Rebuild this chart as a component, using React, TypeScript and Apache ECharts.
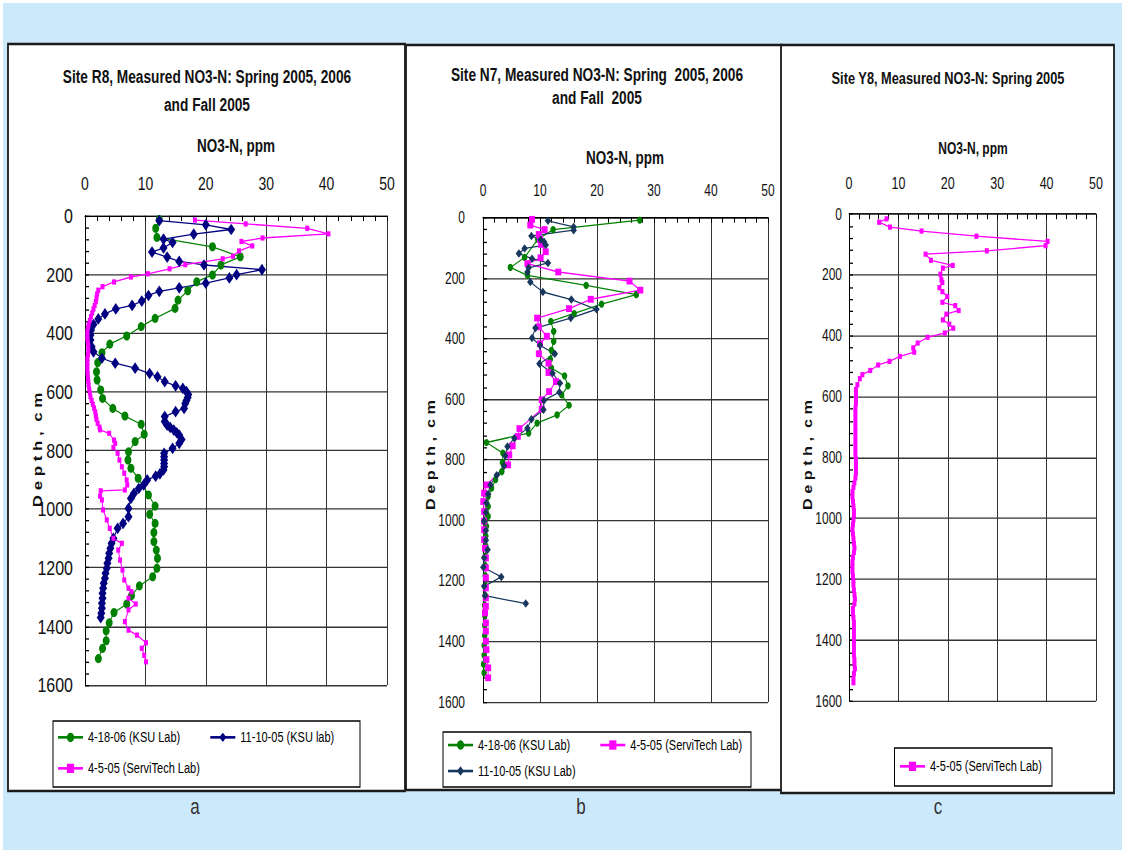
import React, { useEffect, useRef } from "react";
import * as echarts from "echarts";

// ---------------- data: [NO3-N ppm, depth cm] ----------------
const r8Ksu0418: number[][] = [
  [12.3, 13], [11.7, 43], [11.9, 74], [21.1, 106], [25.7, 140], [22.5, 168], [21.1, 202], [18.5, 225],
  [17.0, 256], [15.4, 288], [14.9, 316], [11.6, 350], [9.3, 378], [6.9, 410], [4.1, 438], [2.8, 467],
  [2.1, 501], [1.9, 532], [2.0, 560], [2.6, 594], [2.9, 623], [4.6, 657], [6.6, 683], [9.3, 711],
  [9.8, 745], [8.3, 770], [7.2, 805], [7.1, 833], [7.6, 861], [8.8, 895], [10.5, 952], [11.6, 990],
  [10.7, 1018], [11.6, 1049], [11.4, 1080], [11.4, 1111], [11.8, 1140], [12.0, 1168], [11.9, 1202],
  [11.2, 1231], [9.0, 1262], [7.7, 1295], [6.9, 1324], [4.8, 1353], [4.0, 1388], [3.5, 1415],
  [3.5, 1449], [2.9, 1475], [2.2, 1510],
];
const r8Ksu1110: number[][] = [
  [12.3, 17], [20.0, 31], [24.2, 47], [18.0, 63], [13.0, 80], [14.5, 91], [13.0, 110], [11.1, 124],
  [13.6, 141], [15.6, 156], [19.7, 168], [29.3, 184], [25.1, 201], [23.9, 212], [20.0, 230], [15.6, 246],
  [12.3, 258], [10.5, 272], [9.4, 291], [7.8, 306], [5.1, 318], [3.3, 335], [2.2, 352], [1.4, 371],
  [1.0, 390], [0.9, 407], [0.9, 424], [1.1, 447], [1.4, 464], [2.8, 486], [5.0, 503], [8.3, 520],
  [10.7, 538], [12.0, 549], [13.2, 566], [15.0, 580], [16.2, 589], [16.8, 600], [17.1, 610], [17.0, 620],
  [16.8, 630], [16.6, 640], [16.4, 657], [15.0, 668], [13.2, 685], [13.2, 702], [13.6, 714], [14.1, 722],
  [14.7, 731], [15.2, 740], [15.6, 748], [16.0, 763], [15.6, 776], [14.5, 793], [13.1, 810], [13.1, 822],
  [13.1, 833], [13.1, 845], [13.1, 856], [13.0, 867], [12.4, 880], [11.7, 888], [10.3, 901], [9.7, 918],
  [8.9, 930], [8.1, 947], [7.6, 964], [7.2, 998], [7.2, 1026], [6.3, 1049], [5.4, 1066], [4.7, 1100],
  [4.4, 1117], [4.2, 1134], [4.0, 1151], [3.9, 1168], [3.7, 1185], [3.6, 1202], [3.4, 1219], [3.3, 1236],
  [3.1, 1253], [3.0, 1270], [2.9, 1287], [2.9, 1304], [2.8, 1321], [2.8, 1338], [2.7, 1355], [2.6, 1370],
];
const r8Servi: number[][] = [
  [18.2, 15], [26.6, 28], [36.8, 43], [40.3, 62], [29.4, 76], [25.9, 88], [27.7, 103], [25.5, 120],
  [24.5, 138], [22.8, 147], [16.6, 167], [14.0, 181], [10.4, 198], [7.6, 209], [4.8, 226], [2.9, 242],
  [2.2, 254], [2.0, 267], [1.9, 280], [1.8, 293], [1.6, 306], [1.4, 318], [1.2, 331], [1.0, 344],
  [0.8, 357], [0.6, 370], [0.5, 383], [0.4, 396], [0.4, 409], [0.4, 422], [0.5, 435], [0.55, 448],
  [0.55, 461], [0.5, 474], [0.4, 487], [0.4, 500], [0.4, 513], [0.4, 526], [0.45, 539], [0.5, 552],
  [0.55, 565], [0.6, 578], [0.7, 591], [0.8, 604], [0.9, 617], [1.1, 630], [1.3, 643], [1.5, 656],
  [1.7, 669], [1.8, 682], [1.9, 695], [2.1, 708], [2.4, 721], [2.5, 730], [4.0, 742], [4.8, 765],
  [5.0, 776], [4.7, 790], [5.4, 810], [5.7, 833], [6.1, 856], [6.5, 878], [6.9, 901], [7.0, 918],
  [6.6, 935], [2.6, 938], [2.5, 956], [2.8, 969], [3.0, 1003], [3.6, 1037], [4.1, 1066], [4.7, 1100],
  [6.1, 1117], [5.5, 1140], [5.8, 1174], [6.2, 1208], [6.5, 1242], [7.2, 1270], [7.7, 1282], [7.2, 1304],
  [8.4, 1324], [7.2, 1344], [6.6, 1384], [7.2, 1413], [8.6, 1430], [10.1, 1456], [9.4, 1475], [9.8, 1499],
  [10.1, 1521],
];

const n7Ksu0418: number[][] = [
  [27.5, 9], [12.3, 40], [9.6, 72], [7.3, 132], [4.8, 165], [7.8, 191], [18.1, 224], [26.9, 255],
  [20.8, 286], [16.0, 317], [11.9, 343], [12.4, 376], [12.4, 409], [12.0, 439], [11.8, 468], [12.0, 497],
  [14.3, 523], [14.9, 556], [13.8, 586], [15.1, 620], [13.0, 652], [9.5, 679], [8.0, 712], [0.6, 743],
  [3.5, 778], [3.4, 809], [3.3, 839], [2.2, 866], [1.5, 894], [0.9, 921], [0.9, 954], [0.9, 987],
  [0.6, 1020], [0.5, 1052], [0.5, 1085], [0.4, 1118], [0.4, 1150], [0.4, 1183], [0.4, 1216], [0.4, 1249],
  [0.3, 1281], [0.3, 1314], [0.3, 1347], [0.3, 1380], [0.2, 1413], [0.2, 1446], [0.1, 1475], [0.2, 1504],
];
const n7Servi: number[][] = [
  [8.6, 6], [8.3, 25], [10.8, 40], [9.8, 56], [10.0, 72], [10.2, 89], [11.0, 113], [10.1, 133],
  [7.8, 152], [13.2, 180], [25.7, 210], [27.6, 240], [18.9, 270], [15.1, 301], [9.5, 332], [9.8, 361],
  [11.2, 392], [10.0, 417], [9.8, 450], [11.5, 481], [11.5, 512], [12.8, 542], [11.6, 575], [10.3, 602],
  [10.3, 633], [6.4, 697], [6.1, 723], [5.2, 754], [4.6, 784], [4.4, 817], [0.6, 883], [0.2, 910],
  [0.06, 938], [0.2, 971], [0.2, 1003], [0.2, 1031], [0.2, 1064], [0.35, 1092], [0.5, 1124], [0.5, 1157],
  [0.5, 1190], [0.5, 1223], [0.5, 1256], [0.5, 1284], [0.35, 1306], [0.5, 1339], [0.5, 1366], [0.5, 1399],
  [0.6, 1427], [0.6, 1460], [0.9, 1487], [0.9, 1520],
];
const n7Ksu1110: number[][] = [
  [11.4, 11], [15.9, 31], [15.9, 42], [8.5, 61], [10.1, 73], [10.7, 80], [11.0, 91], [7.3, 102],
  [6.3, 119], [8.6, 136], [11.4, 150], [8.0, 166], [7.8, 180], [8.3, 213], [10.5, 246], [15.5, 271],
  [19.9, 303], [15.4, 332], [9.2, 365], [8.6, 398], [10.0, 422], [12.6, 450], [9.9, 483], [12.2, 514],
  [13.5, 547], [13.4, 577], [10.7, 604], [10.6, 635], [8.5, 666], [7.8, 696], [5.5, 729], [4.3, 756],
  [3.9, 787], [3.7, 820], [2.4, 851], [1.3, 883], [0.9, 913], [0.6, 943], [0.5, 973], [0.2, 1003],
  [0.5, 1034], [0.5, 1066], [0.8, 1097], [0.2, 1124], [0.06, 1155], [3.2, 1187], [0.2, 1218],
  [0.35, 1249], [7.5, 1275],
];

const y8Servi: number[][] = [
  [7.6, 16], [6.1, 27], [8.3, 43], [14.7, 56], [25.8, 73], [40.2, 90], [39.8, 104], [27.9, 121],
  [15.5, 132], [16.6, 152], [21.0, 169], [19.0, 178], [18.5, 198], [18.7, 216], [18.9, 225], [18.3, 242],
  [18.9, 255], [19.9, 271], [18.9, 290], [21.5, 301], [22.2, 317], [19.7, 329], [19.0, 348], [20.3, 362],
  [21.1, 375], [19.4, 391], [15.9, 405], [13.9, 424], [13.0, 440], [13.2, 454], [10.3, 468], [8.2, 484],
  [5.9, 496], [4.3, 514], [2.7, 528], [2.2, 541], [1.7, 561], [1.4, 577], [1.4, 592], [1.4, 607],
  [1.4, 623], [1.3, 638], [1.3, 653], [1.3, 668], [1.3, 684], [1.3, 699], [1.3, 714], [1.3, 730],
  [1.3, 745], [1.3, 760], [1.3, 776], [1.3, 791], [1.4, 806], [1.4, 822], [1.4, 837], [1.4, 852],
  [1.3, 867], [1.1, 883], [0.9, 898], [0.7, 913], [0.7, 929], [0.8, 944], [0.9, 959], [1.0, 975],
  [1.0, 990], [0.9, 1005], [0.8, 1020], [0.7, 1036], [0.8, 1051], [0.9, 1066], [1.0, 1082], [1.1, 1097],
  [1.0, 1112], [0.8, 1128], [0.7, 1143], [0.7, 1158], [0.7, 1174], [0.8, 1189], [0.9, 1204], [0.9, 1219],
  [1.0, 1235], [1.1, 1250], [1.2, 1265], [1.1, 1281], [0.8, 1296], [0.8, 1311], [0.9, 1326], [1.0, 1342],
  [1.0, 1357], [1.0, 1372], [1.0, 1388], [1.0, 1403], [1.0, 1418], [1.0, 1433], [1.0, 1449], [1.1, 1464],
  [1.1, 1479], [1.2, 1494], [1.0, 1510], [0.9, 1525], [0.9, 1540],
];

const titles = [
  "Site R8, Measured NO3-N: Spring 2005, 2006\nand Fall 2005",
  "Site N7, Measured NO3-N: Spring  2005, 2006\nand Fall  2005",
  "Site Y8, Measured NO3-N: Spring 2005",
];
const xName = "NO3-N, ppm";
const yName = "D e p t h ,  c m";
const panelLetters = ["a", "b", "c"];
const nameGreen = "4-18-06 (KSU Lab)";
const nameBlueA = "11-10-05 (KSU lab)";
const nameBlueB = "11-10-05 (KSU Lab)";
const namePink = "4-5-05 (ServiTech Lab)";

// ---------------- layout ----------------
const FONT = '"Liberation Sans", Arial, Helvetica, sans-serif';
const S = 1.3; // the reference is stretched vertically
const W = 1122;
const H = 850 / S;
const vy = (y: number) => y / S;

const grids = [
  { left: 85, top: vy(215.7), width: 302, height: vy(685) - vy(215.7) },
  { left: 483, top: vy(217.5), width: 285, height: vy(702) - vy(217.5) },
  { left: 849, top: vy(214), width: 247, height: vy(701) - vy(214) },
];
const xLabel = [
  { size: 14, margin: 18 },
  { size: 12, margin: 15 },
  { size: 12.5, margin: 17 },
];
const yLabel = [
  { size: 16, margin: 12 },
  { size: 12, margin: 18 },
  { size: 12, margin: 7 },
];

const plain = (v: number) => String(v);

function xAxisFor(i: number) {
  return {
    gridIndex: i,
    type: "value",
    position: "top",
    min: 0,
    max: 50,
    interval: 10,
    axisLine: { show: true, onZero: false, lineStyle: { color: "#000", width: 1 } },
    axisTick: { show: true, inside: true, length: 4, lineStyle: { color: "#000" } },
    minorTick: { show: true, splitNumber: 5, length: 4, lineStyle: { color: "#000" } },
    splitLine: { show: true, lineStyle: { color: "#333", width: 1 } },
    axisLabel: {
      fontSize: xLabel[i].size,
      margin: xLabel[i].margin,
      color: "#111",
      fontFamily: FONT,
      formatter: plain,
    },
  };
}
function yAxisFor(i: number) {
  return {
    gridIndex: i,
    type: "value",
    inverse: true,
    min: 0,
    max: 1600,
    interval: 200,
    axisLine: { show: true, onZero: false, lineStyle: { color: "#000", width: 1 } },
    axisTick: { show: true, inside: true, length: 4, lineStyle: { color: "#000" } },
    minorTick: { show: true, splitNumber: 5, length: 4, lineStyle: { color: "#000" } },
    splitLine: { show: true, lineStyle: { color: "#333", width: 1 } },
    axisLabel: {
      fontSize: yLabel[i].size,
      margin: yLabel[i].margin,
      color: "#111",
      fontFamily: FONT,
      formatter: plain,
    },
  };
}

function lineSeries(name: string, data: number[][], idx: number, color: string, symbol: string, size: any) {
  return {
    name,
    type: "line",
    xAxisIndex: idx,
    yAxisIndex: idx,
    data,
    symbol,
    symbolSize: size,
    showSymbol: true,
    lineStyle: { color, width: 1 },
    itemStyle: { color },
    emphasis: { disabled: true },
    z: 3,
  };
}

function txt(text: string, x: number, y: number, size: number, bold: boolean, extra: any = {}) {
  return {
    type: "text",
    x,
    y: vy(y),
    z: 100,
    silent: true,
    ...extra,
    style: {
      text,
      fill: "#111",
      fontSize: size,
      fontWeight: bold ? "bold" : "normal",
      fontFamily: FONT,
      align: "center",
      verticalAlign: "middle",
      ...(extra.style || {}),
    },
  };
}

function box(x1: number, y1: number, x2: number, y2: number, stroke: string, lw: number, z: number) {
  return {
    type: "rect",
    z,
    silent: true,
    shape: { x: x1, y: vy(y1), width: x2 - x1, height: vy(y2) - vy(y1) },
    style: { fill: "#fff", stroke, lineWidth: lw },
  };
}

function legendFor(data: string[], left: number, yCenter: number, gap: number) {
  return {
    data,
    left,
    top: vy(yCenter) - 6,
    orient: "horizontal",
    itemGap: gap,
    itemWidth: 25,
    itemHeight: 9,
    padding: 0,
    selectedMode: false,
    textStyle: { fontSize: 11, color: "#000", fontFamily: FONT },
  };
}

export default function App() {
  const ref = useRef<HTMLDivElement>(null);
  useEffect(() => {
    if (!ref.current) return;
    const chart = echarts.init(ref.current, null, { renderer: "svg" });
    const option: any = {
      animation: false,
      textStyle: { fontFamily: FONT },
      graphic: [
        {
          type: "rect",
          z: -20,
          silent: true,
          shape: { x: 3, y: vy(3), width: W - 3, height: H - vy(3) },
          style: { fill: "#cce9fb" },
        },
        box(8, 44, 405, 791, "#1a1a1a", 1.8, -10),
        box(406, 45, 782, 790, "#1a1a1a", 1.8, -10),
        box(781, 45, 1114, 793, "#1a1a1a", 1.8, -10),
        box(53, 721, 360, 787, "#000", 1, -5),
        box(443, 732, 751, 787, "#000", 1, -5),
        box(894.5, 748, 1052, 786, "#000", 1, -5),
        txt(titles[0], 207, 91, 13.7, true, { style: { lineHeight: vy(28) } }),
        txt(titles[1], 597, 86.5, 13.7, true, { style: { lineHeight: vy(23) } }),
        txt(titles[2], 948, 78.3, 12.8, true),
        txt(xName, 236, 146, 13.5, true),
        txt(xName, 625, 158, 13.5, true),
        txt(xName, 973, 148, 12, true),
        txt(yName, 37, 450, 13, true, { rotation: Math.PI / 2 }),
        txt(yName, 431, 455, 12.5, true, { rotation: Math.PI / 2 }),
        txt(yName, 808, 455, 12.5, true, { rotation: Math.PI / 2 }),
        txt(panelLetters[0], 195, 806, 17, false, { style: { fill: "#333" } }),
        txt(panelLetters[1], 581, 806, 17, false, { style: { fill: "#333" } }),
        txt(panelLetters[2], 938, 806, 17, false, { style: { fill: "#333" } }),
      ],
      grid: grids.map((g) => ({ ...g, containLabel: false, outerBoundsMode: "none" })),
      xAxis: [0, 1, 2].map(xAxisFor),
      yAxis: [0, 1, 2].map(yAxisFor),
      legend: [
        legendFor([nameGreen, nameBlueA], 57, 738, 29),
        legendFor([namePink], 57, 769, 29),
        legendFor([nameGreen, namePink], 447, 745.7, 29),
        legendFor([nameBlueB], 447, 771.7, 29),
        legendFor([namePink], 899, 767, 29),
      ],
      series: [
        lineSeries(nameGreen, r8Ksu0418, 0, "#008000", "circle", 7),
        lineSeries(nameBlueA, r8Ksu1110, 0, "#000080", "diamond", [8, 9]),
        lineSeries(namePink, r8Servi, 0, "#ff00ff", "rect", 4),
        lineSeries(nameGreen, n7Ksu0418, 1, "#008000", "circle", 5.5),
        lineSeries(namePink, n7Servi, 1, "#ff00ff", "rect", [6, 5.2]),
        lineSeries(nameBlueB, n7Ksu1110, 1, "#17375e", "diamond", [6.5, 6.5]),
        lineSeries(namePink, y8Servi, 2, "#ff00ff", "rect", 4),
      ],
    };
    chart.setOption(option);
    return () => chart.dispose();
  }, []);

  return (
    <div
      style={{
        position: "fixed",
        left: 0,
        top: 0,
        width: W,
        height: 850,
        background: "#fff",
        overflow: "hidden",
      }}
    >
      <div
        ref={ref}
        style={{
          width: W,
          height: H,
          transform: `scaleY(${S})`,
          transformOrigin: "0 0",
        }}
      />
    </div>
  );
}
